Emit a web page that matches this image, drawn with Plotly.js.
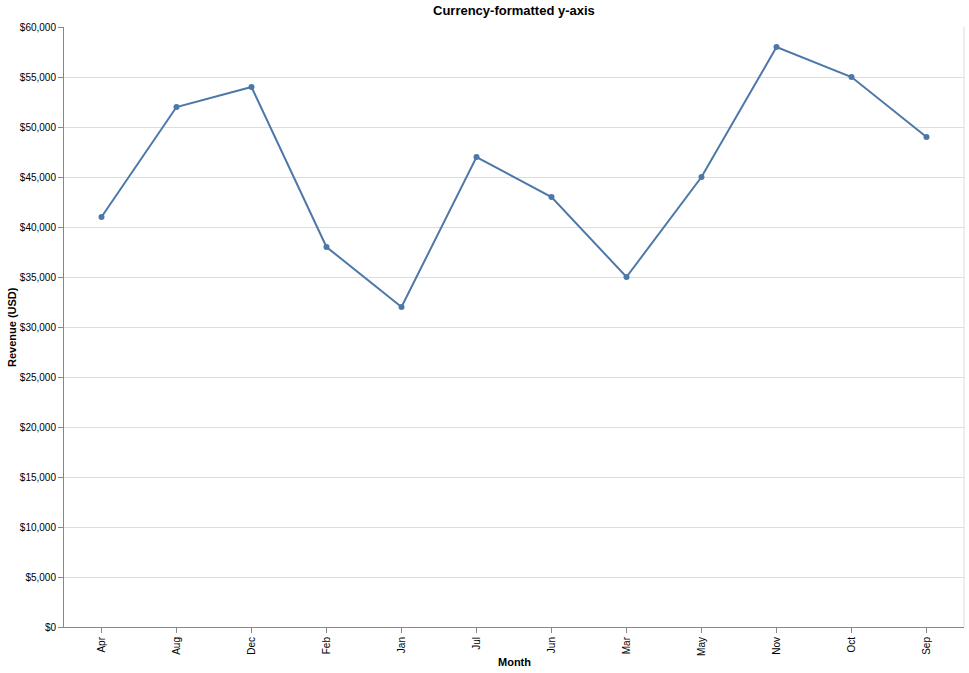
<!DOCTYPE html>
<html><head><meta charset="utf-8">
<script src="https://cdn.plot.ly/plotly-3.0.1.min.js"></script>
<style>html,body{margin:0;padding:0;background:#fff}#c{width:969px;height:673px}</style>
</head><body><div id="c"></div>
<script>
const months = ["Apr","Aug","Dec","Feb","Jan","Jul","Jun","Mar","May","Nov","Oct","Sep"];
const revenue = [41000,52000,54000,38000,32000,47000,43000,35000,45000,58000,55000,49000];
const yTicks = [0,5000,10000,15000,20000,25000,30000,35000,40000,45000,50000,55000,60000];

const FONT = "Liberation Sans, Arial, Helvetica, sans-serif";
const trace = {
  x: months, y: revenue, type: 'scatter', mode: 'lines+markers',
  line: {color: '#4c78a8', width: 2},
  marker: {color: '#4c78a8', size: 6},
  hoverinfo: 'x+y'
};
const layout = {
  width: 969, height: 673,
  margin: {l: 64, r: 5, t: 27, b: 46, pad: 0},
  paper_bgcolor: '#fff', plot_bgcolor: '#fff',
  font: {family: FONT, size: 10, color: '#000'},
  showlegend: false,
  xaxis: {
    type: 'category', range: [-0.5, 11.5], categoryorder: 'array', categoryarray: months,
    showgrid: false, zeroline: false,
    showline: true, linecolor: '#888', linewidth: 1,
    ticks: 'outside', ticklen: 5, tickcolor: '#888', tickwidth: 1,
    tickangle: -90, tickfont: {family: FONT, size: 10, color: '#000'},
    fixedrange: true
  },
  yaxis: {
    range: [0, 60000], tickmode: 'array', tickvals: yTicks,
    ticktext: yTicks.map(v => '$' + v.toLocaleString('en-US')),
    showgrid: true, gridcolor: '#ddd', gridwidth: 1, zeroline: false,
    showline: true, linecolor: '#888', linewidth: 1,
    ticks: 'outside', ticklen: 5, tickcolor: '#888', tickwidth: 1,
    tickfont: {family: FONT, size: 10, color: '#000'},
    fixedrange: true
  },
  shapes: [
    {type: 'line', xref: 'paper', yref: 'paper', x0: 1, x1: 1, y0: 0, y1: 1, line: {color: '#ddd', width: 1}}
  ],
  annotations: [
    {text: '<b>Currency-formatted y-axis</b>', xref: 'paper', yref: 'paper', x: 0.5, y: 1, yshift: 17,
     showarrow: false, xanchor: 'center', yanchor: 'middle', font: {family: FONT, size: 13, color: '#000'}},
    {text: '<b>Month</b>', xref: 'paper', yref: 'paper', x: 0.5, y: 0, yshift: -35,
     showarrow: false, xanchor: 'center', yanchor: 'middle', font: {family: FONT, size: 11, color: '#000'}},
    {text: '<b>Revenue (USD)</b>', xref: 'paper', yref: 'paper', x: 0, xshift: -52, y: 0.5, textangle: -90,
     showarrow: false, xanchor: 'center', yanchor: 'middle', font: {family: FONT, size: 11, color: '#000'}}
  ]
};
Plotly.newPlot('c', [trace], layout, {displayModeBar: false, staticPlot: true});
</script></body></html>
